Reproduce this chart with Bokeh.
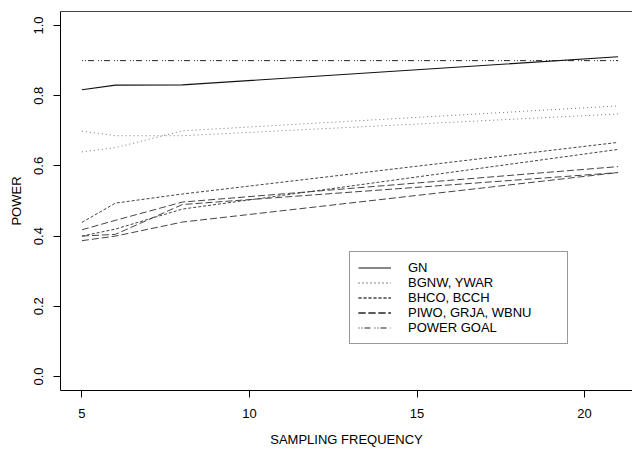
from bokeh.plotting import figure
from bokeh.models import (Range1d, FixedTicker, LinearAxis, Legend, LegendItem,
                          PrintfTickFormatter)
from bokeh.embed import file_html
from bokeh.resources import INLINE

# ---- data ----
freq = [5, 6, 8, 21]
gn = [0.817, 0.830, 0.831, 0.911]
bgnw = [0.699, 0.686, 0.686, 0.748]
ywar = [0.640, 0.652, 0.700, 0.771]
bhco = [0.439, 0.494, 0.520, 0.667]
bcch = [0.400, 0.420, 0.477, 0.647]
piwo = [0.418, 0.445, 0.497, 0.598]
grja = [0.400, 0.405, 0.490, 0.581]
wbnu = [0.387, 0.400, 0.440, 0.581]
goal_x = [5, 21]
goal_y = [0.9, 0.9]

x_ticks = [5, 10, 15, 20]
y_ticks = [0.0, 0.2, 0.4, 0.6, 0.8, 1.0]

FONT = "Liberation Sans"
FS = "13px"

p = figure(width=632, height=449, output_backend="svg", toolbar_location=None,
           x_range=Range1d(4.36, 21.43), y_range=Range1d(-0.04, 1.04),
           min_border_left=60, min_border_right=0, min_border_top=11,
           min_border_bottom=57, x_axis_label="SAMPLING FREQUENCY",
           y_axis_label="POWER")
p.outline_line_color = None
p.grid.visible = False
p.background_fill_color = "white"
p.border_fill_color = "white"

for ax in (p.xaxis[0], p.yaxis[0]):
    ax.axis_line_color = "black"
    ax.axis_line_width = 1
    ax.major_tick_line_color = "black"
    ax.major_tick_out = 7
    ax.major_tick_in = 0
    ax.minor_tick_line_color = None
    ax.major_label_text_font = FONT
    ax.major_label_text_font_size = FS
    ax.major_label_text_color = "black"
    ax.axis_label_text_font = FONT
    ax.axis_label_text_font_size = FS
    ax.axis_label_text_font_style = "normal"
    ax.axis_label_text_color = "black"

p.xaxis[0].ticker = FixedTicker(ticks=x_ticks)
p.xaxis[0].major_label_standoff = 11
p.xaxis[0].axis_label_standoff = 11
p.yaxis[0].ticker = FixedTicker(ticks=y_ticks)
p.yaxis[0].formatter = PrintfTickFormatter(format="%.1f")
p.yaxis[0].major_label_orientation = "vertical"
p.yaxis[0].major_label_standoff = 10
p.yaxis[0].axis_label_standoff = 8

top = LinearAxis(ticker=FixedTicker(ticks=[]), major_tick_out=0, major_tick_in=0,
                 minor_tick_line_color=None, major_label_standoff=0,
                 major_label_text_font_size="0px", axis_line_color="#444444")
p.add_layout(top, "above")

r_gn = p.line(freq, gn, line_color="#111111", line_width=1.2)
r_bg = p.line(freq, bgnw, line_color="#777777", line_width=1, line_dash="1 3")
r_yw = p.line(freq, ywar, line_color="#777777", line_width=1, line_dash="1 3")
r_bh = p.line(freq, bhco, line_color="#444444", line_width=1, line_dash="3 2")
r_bc = p.line(freq, bcch, line_color="#444444", line_width=1, line_dash="3 2")
r_pi = p.line(freq, piwo, line_color="#444444", line_width=1, line_dash="7 3")
r_gr = p.line(freq, grja, line_color="#444444", line_width=1, line_dash="7 3")
r_wb = p.line(freq, wbnu, line_color="#444444", line_width=1, line_dash="7 3")
r_goal = p.line(goal_x, goal_y, line_color="#222222", line_width=1,
                line_dash="1 2 1 2 6 4")

legend = Legend(items=[
    LegendItem(label="GN", renderers=[r_gn]),
    LegendItem(label="BGNW, YWAR", renderers=[r_bg, r_yw]),
    LegendItem(label="BHCO, BCCH", renderers=[r_bh, r_bc]),
    LegendItem(label="PIWO, GRJA, WBNU", renderers=[r_pi, r_gr, r_wb]),
    LegendItem(label="POWER GOAL", renderers=[r_goal]),
], location=(289, 46))
legend.border_line_color = "#333333"
legend.border_line_width = 1.5
legend.background_fill_color = "white"
legend.background_fill_alpha = 1
legend.padding = 8
legend.margin = 0
legend.spacing = 0
legend.glyph_width = 33
legend.glyph_height = 15
legend.label_height = 15
legend.label_width = 151
legend.label_standoff = 17
legend.label_text_font = FONT
legend.label_text_font_size = FS
legend.label_text_color = "black"
p.add_layout(legend, "center")

open("out.html", "w").write(file_html(p, INLINE))
